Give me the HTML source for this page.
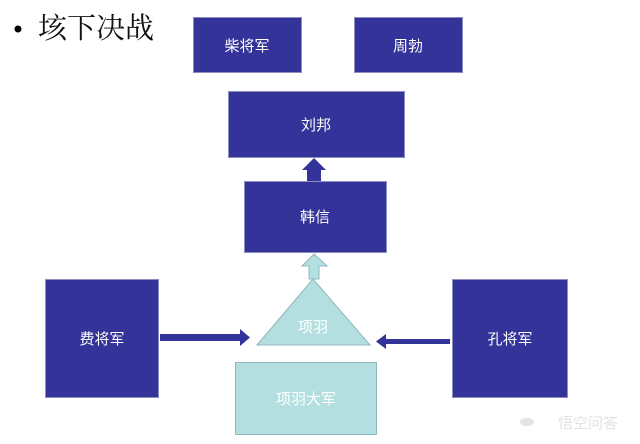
<!DOCTYPE html>
<html><head><meta charset="utf-8"><style>
html,body{margin:0;padding:0;background:#fff;}
svg{display:block;}
text{font-family:"Liberation Sans","Noto Sans CJK SC",sans-serif;}
</style></head><body>
<svg width="640" height="444" viewBox="0 0 640 444" xmlns="http://www.w3.org/2000/svg">
<rect width="640" height="444" fill="#fff"/>
<circle cx="18" cy="29" r="3.5" fill="#000"/>
<text x="38" y="38" font-size="29" fill="#111" style="font-family:'Noto Serif CJK SC','Liberation Serif',serif">垓下决战</text>
<g fill="#333399" stroke="#8a8fc0" stroke-width="1">
<rect x="193.5" y="17.5" width="108" height="55"/>
<rect x="354.5" y="17.5" width="108" height="55"/>
<rect x="228.5" y="91.5" width="176" height="66"/>
<rect x="244.5" y="181.5" width="142" height="71"/>
<rect x="45.5" y="279.5" width="113" height="118"/>
<rect x="452.5" y="279.5" width="115" height="118"/>
</g>
<polygon points="307,181 307,170 302,170 314,158 326,170 321,170 321,181" fill="#333399"/>
<polygon points="309,279 309,266 302,266 314,254 327,266 319,266 319,279" fill="#b4dfe0" stroke="#8fb8ba" stroke-width="1"/>
<polygon points="313,279 257,345 370,345" fill="#b4dfe0" stroke="#8fb8ba" stroke-width="1"/>
<rect x="235.5" y="362.5" width="141" height="72" fill="#b4dfe0" stroke="#8fb8ba" stroke-width="1"/>
<polygon points="160,334 240,334 240,329 250,337.5 240,346 240,341 160,341" fill="#333399"/>
<polygon points="450,339 386,339 386,334 376,341.5 386,349 386,344 450,344" fill="#333399"/>
<g fill="#fff" font-size="15" text-anchor="middle">
<text x="247" y="51">柴将军</text>
<text x="408" y="51">周勃</text>
<text x="316" y="130">刘邦</text>
<text x="315" y="222">韩信</text>
<text x="102" y="344">费将军</text>
<text x="510" y="344">孔将军</text>
<text x="313" y="332">项羽</text>
<text x="306" y="404">项羽大军</text>
</g>
<g fill="#e4e4e4">
<ellipse cx="527" cy="422" rx="7" ry="4"/>
<text x="588" y="428" font-size="15" text-anchor="middle" fill="#e2e2e2">悟空问答</text>
</g>
</svg>
</body></html>
